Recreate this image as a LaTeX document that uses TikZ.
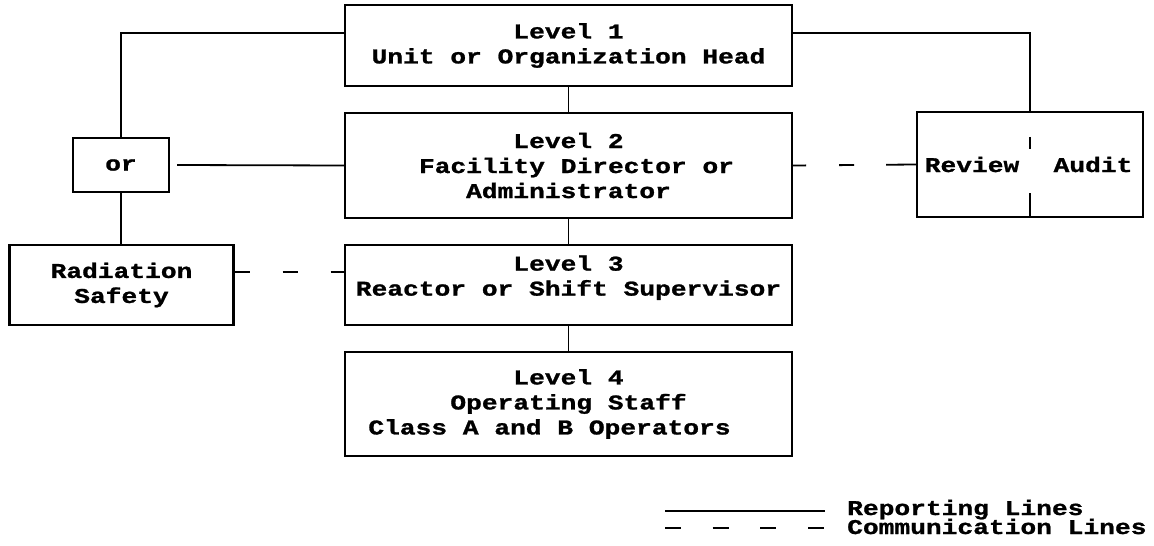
\documentclass[tikz,border=0pt]{standalone}
\usepackage{fontspec}
\setmainfont{Liberation Mono}[FakeStretch=1.25,FakeBold=1.2]
\begin{document}
\begin{tikzpicture}[x=1pt,y=-1pt,
  box/.style={draw,line width=2.2pt,rectangle,inner sep=0pt,align=center,
    font=\fontsize{21}{25}\selectfont\bfseries},
  rline/.style={line width=1.8pt},
  cline/.style={line width=1.8pt},
  lab/.style={inner sep=0pt,font=\fontsize{21}{25}\selectfont\bfseries}]
\useasboundingbox (0,0) rectangle (1154,546);
\node[box,minimum width=447pt,minimum height=81pt] (L1) at (568.5,45.5) {Level 1\\Unit or Organization Head};
\node[box,minimum width=447pt,minimum height=105pt] (L2) at (568.5,165.5) {Level 2\\\hspace*{16pt}Facility Director or\\Administrator};
\node[box,minimum width=447pt,minimum height=80pt] (L3) at (568.5,285) {Level 3\\Reactor or Shift Supervisor\\[-6pt]};
\node[box,minimum width=447pt,minimum height=104pt] (L4) at (568.5,404) {Level 4\\Operating Staff\\Class A and B Operators\hspace*{38pt}};
\node[box,minimum width=96pt,minimum height=54pt] (OR) at (121,165) {or};
\node[box,minimum width=224pt,minimum height=80pt] (RS) at (121.5,285) {Radiation\\Safety};
\node[box,minimum width=226pt,minimum height=105pt] (RA) at (1030,164.5) {};
\node[lab,anchor=base] (REV) at (972,172) {Review};
\node[lab,anchor=base] (AUD) at (1093,172) {Audit};
% reporting lines
\draw[rline] ([yshift=12.5pt]L1.west) -| (OR.north);
\draw[rline] ([yshift=12.5pt]L1.east) -| (RA.north);
\draw[rline] ([xshift=7pt]OR.east) -- (L2.west);
\draw[rline] (OR.south) -- (OR.south |- RS.north);
\draw[rline] (L1.south) -- (L2.north);
\draw[rline] (L2.south) -- (L3.north);
\draw[rline] (L3.south) -- (L4.north);
\draw[rline] ([yshift=-26pt]RA.north) -- ([yshift=-38pt]RA.north);
\draw[rline] ([yshift=25pt]RA.south) -- (RA.south);
% communication lines
\draw[cline,dash pattern=on 15pt off 33pt] ([yshift=13pt]RS.east) -- ([yshift=13pt]L3.west);
\draw[cline,dash pattern=on 13pt off 33pt on 15pt off 32pt on 40pt off 0pt] (L2.east) -- (RA.west);
% legend
\coordinate (A1) at (665,511);
\coordinate (A2) at (825,511);
\coordinate (B1) at (665,528);
\coordinate (B2) at (825,528);
\draw[rline] (A1) -- (A2);
\draw[cline,dash pattern=on 16pt off 31.7pt] (B1) -- (B2);
\node[lab,anchor=base west] (LR) at (847,515) {Reporting Lines};
\node[lab,anchor=base west] (LC) at (847,534) {Communication Lines};
\end{tikzpicture}
\end{document}
